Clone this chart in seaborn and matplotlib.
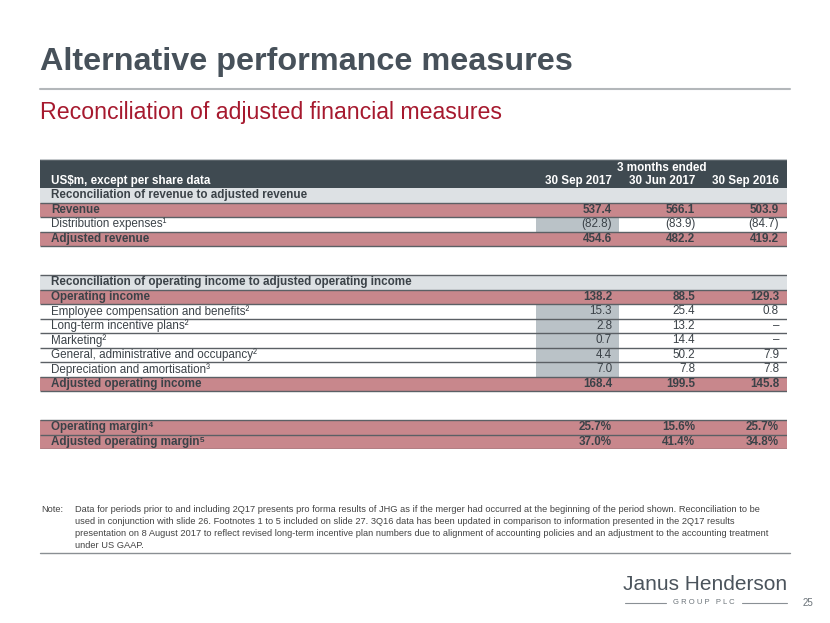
import matplotlib
matplotlib.use("Agg")
import matplotlib.pyplot as plt
import seaborn as sns

# --- data -----------------------------------------------------------------
columns = ["30 Sep 2017", "30 Jun 2017", "30 Sep 2016"]
row_labels = [
    "Reconciliation of revenue to adjusted revenue",
    "Revenue",
    "Distribution expenses\u00b9",
    "Adjusted revenue",
    "",
    "",
    "Reconciliation of operating income to adjusted operating income",
    "Operating income",
    "Employee compensation and benefits\u00b2",
    "Long-term incentive plans\u00b2",
    "Marketing\u00b2",
    "General, administrative and occupancy\u00b2",
    "Depreciation and amortisation\u00b3",
    "Adjusted operating income",
    "",
    "",
    "Operating margin\u2074",
    "Adjusted operating margin\u2075",
]
row_kind = ["section", "total", "item", "total", "gap", "gap",
            "section", "total", "item", "item", "item", "item", "item", "total",
            "gap", "gap", "total", "total"]
is_pct = [False] * 16 + [True, True]

sep_2017 = [None, 537.4, -82.8, 454.6, None, None,
            None, 138.2, 15.3, 2.8, 0.7, 4.4, 7.0, 168.4, None, None, 25.7, 37.0]
jun_2017 = [None, 566.1, -83.9, 482.2, None, None,
            None, 88.5, 25.4, 13.2, 14.4, 50.2, 7.8, 199.5, None, None, 15.6, 41.4]
sep_2016 = [None, 503.9, -84.7, 419.2, None, None,
            None, 129.3, 0.8, None, None, 7.9, 7.8, 145.8, None, None, 25.7, 34.8]
values = [sep_2017, jun_2017, sep_2016]

note_lines = [
    "Data for periods prior to and including 2Q17 presents pro forma results of JHG as if the merger had occurred at the beginning of the period shown. Reconciliation to be",
    "used in conjunction with slide 26. Footnotes 1 to 5 included on slide 27. 3Q16 data has been updated in comparison to information presented in the 2Q17 results",
    "presentation on 8 August 2017 to reflect revised long-term incentive plan numbers due to alignment of accounting policies and an adjustment to the accounting treatment",
    "under US GAAP.",
]

# --- style ----------------------------------------------------------------
sns.set_theme(style="white")
plt.rcParams["font.family"] = ["Liberation Sans", "DejaVu Sans"]

HEADER = "#3f4a51"
SECTION = "#dde1e4"
TOTAL = "#c8878c"
HILITE = "#bac2c7"
RULE = "#5b6065"
TXT = "#3b4248"

W, H = 830, 623
fig = plt.figure(figsize=(W / 100, H / 100), dpi=100)
fig.patch.set_facecolor("white")


def px(x, y):
    return x / W, 1 - y / H


def fmt(v, pct):
    if v is None:
        return "\u2013"
    s = f"{abs(v):.1f}" + ("%" if pct else "")
    return f"({s})" if v < 0 else s


# titles
fig.text(*px(40, 62), "Alternative performance measures", fontsize=23.3,
         fontweight="bold", color="#47515a", va="center", ha="left")
fig.add_artist(plt.Line2D([40 / W, 790 / W], [1 - 89 / H] * 2, color="#b3b7ba", lw=1.5))
fig.text(*px(40, 113), "Reconciliation of adjusted financial measures", fontsize=16.65,
         color="#a6192e", va="center", ha="left")

# --- table axes -----------------------------------------------------------
n = len(row_labels)
ax = fig.add_axes([40 / W, 1 - 449 / H, 747 / W, 290 / H])
ax.set_xlim(0, 747)
ax.set_ylim(n, -2)
ax.axis("off")

col_right = [572, 655, 739]
hl_left, hl_right = 496, 579
FS = 8.4

# header band
ax.barh(-1, 747, left=0, height=2, color=HEADER, lw=0)
ax.axhline(-2, color="#c4c8cb", lw=1)
ax.text(622, -1.38, "3 months ended", ha="center", va="center", color="white",
        fontsize=FS, fontweight="bold")
ax.text(11, -0.45, "US$m, except per share data", ha="left", va="center", color="white",
        fontsize=FS, fontweight="bold")
for c, name in enumerate(columns):
    ax.text(col_right[c], -0.45, name, ha="right", va="center", color="white",
            fontsize=FS, fontweight="bold")

for i, (label, kind) in enumerate(zip(row_labels, row_kind)):
    yc = i + 0.5
    if kind == "gap":
        continue
    if kind == "section":
        ax.barh(yc, 747, left=0, height=1, color=SECTION, lw=0)
    elif kind == "total":
        ax.barh(yc, 747, left=0, height=1, color=TOTAL, lw=0)
    else:
        ax.barh(yc, hl_right - hl_left, left=hl_left, height=1, color=HILITE, lw=0)
    bold = kind in ("section", "total")
    ax.text(11, yc, label, ha="left", va="center", color=TXT, fontsize=FS,
            fontweight="bold" if bold else "normal")
    if kind != "section":
        for c in range(3):
            ax.text(col_right[c], yc, fmt(values[c][i], is_pct[i]), ha="right",
                    va="center", color=TXT, fontsize=FS,
                    fontweight="bold" if bold else "normal")
    ax.plot([0, 747], [i + 1, i + 1], color=RULE, lw=1.0, solid_capstyle="butt")
    if i > 0 and row_kind[i - 1] == "gap":
        ax.plot([0, 747], [i, i], color=RULE, lw=1.0, solid_capstyle="butt")

# --- note -----------------------------------------------------------------
fig.text(*px(41, 509), "Note:", fontsize=6.65, color="#444", va="center", ha="left")
for k, line in enumerate(note_lines):
    fig.text(*px(75, 509 + 12 * k), line, fontsize=6.65, color="#444",
             va="center", ha="left")
fig.add_artist(plt.Line2D([40 / W, 790 / W], [1 - 553 / H] * 2, color="#8a8f93", lw=1))

# --- logo / page number ---------------------------------------------------
fig.text(*px(705, 585), "Janus Henderson", fontsize=15, color="#4b545c",
         ha="center", va="center")
fig.text(*px(704, 603), "G R O U P   P L C", fontsize=5.5, color="#6b7379",
         ha="center", va="center")
fig.add_artist(plt.Line2D([625 / W, 666 / W], [1 - 603 / H] * 2, color="#8a9095", lw=0.8))
fig.add_artist(plt.Line2D([742 / W, 787 / W], [1 - 603 / H] * 2, color="#8a9095", lw=0.8))
fig.text(*px(808, 603), "25", fontsize=7, color="#6b7379", ha="center", va="center")

fig.savefig("out.png", dpi=100, facecolor="white")
